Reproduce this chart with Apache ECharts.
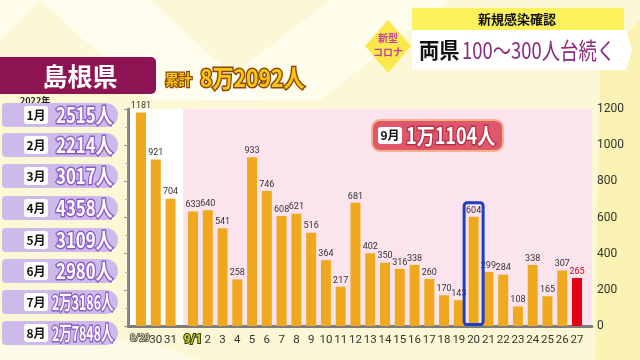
<!DOCTYPE html>
<html><head><meta charset="utf-8">
<script src="https://cdn.jsdelivr.net/npm/echarts@6/dist/echarts.min.js"></script>
<style>html,body{margin:0;padding:0;background:#fcf8d6}#c{width:640px;height:360px}</style>
</head><body><div id="c"></div>
<script>
// ---- data ----
var augDays = ['8/29', '30', '31'];
var augValues = [1181, 921, 704];
var sepDays = ['9/1','2','3','4','5','6','7','8','9','10','11','12','13','14','15','16','17','18','19','20','21','22','23','24','25','26','27'];
var sepValues = [633,640,541,258,933,746,608,621,516,364,217,681,402,350,316,338,260,170,143,604,299,284,108,338,165,307,265];
var highlightDay = '20';
var highlightTop = 690;
var latestDay = '27';
var yTicks = [0, 200, 400, 600, 800, 1000, 1200];
var monthNames = ['1月','2月','3月','4月','5月','6月','7月','8月'];
var monthTotals = ['2515人','2214人','3017人','4358人','3109人','2980人','2万3186人','2万7848人'];
var yearLabel = '2022年';
var prefName = '島根県';
var totalLabel = '累計';
var totalValue = '8万2092人';
var sepMonth = '9月';
var sepTotal = '1万1104人';
var tagLine1 = '新型';
var tagLine2 = 'コロナ';
var headTop = '新規感染確認';
var headA = '両県';
var headB = '100〜300人台続く';

var JP = '"Noto Sans CJK JP", "Noto Sans", sans-serif';
var NARROW = 'Roboto, "Liberation Sans", sans-serif';
var BAR = '#f0a91e';

var chart = echarts.init(document.getElementById('c'), null, {renderer: 'canvas'});

var graphics = [];
// background stripes
graphics.push({type:'polygon', z:-10, shape:{points:[[40,0],[150,0],[260,100],[150,100]]}, style:{fill:'rgba(255,255,255,0.55)'}});
graphics.push({type:'polygon', z:-10, shape:{points:[[200,100],[330,0],[450,0],[320,100]]}, style:{fill:'rgba(255,255,255,0.5)'}});
graphics.push({type:'polygon', z:-10, shape:{points:[[0,0],[40,0],[0,40]]}, style:{fill:'rgba(255,255,255,0.5)'}});
graphics.push({type:'polygon', z:-10, shape:{points:[[600,60],[640,20],[640,360],[595,360]]}, style:{fill:'rgba(250,238,140,0.45)'}});
graphics.push({type:'polygon', z:-10, shape:{points:[[0,340],[140,340],[200,360],[0,360]]}, style:{fill:'rgba(255,255,255,0.45)'}});

// header
graphics.push({type:'polygon', shape:{points:[[388,20],[411,46],[388,73],[365,46]]}, style:{fill:'#fbe84a'}});
graphics.push({type:'text', x:388, y:38, style:{text:tagLine1, font:'bold 10px '+JP, fill:'#c2449a', align:'center', verticalAlign:'middle'}});
graphics.push({type:'text', x:388, y:52, style:{text:tagLine2, font:'bold 10px '+JP, fill:'#c2449a', align:'center', verticalAlign:'middle'}});
graphics.push({type:'rect', shape:{x:412, y:8, width:212, height:22}, style:{fill:'#fdf25c'}});
graphics.push({type:'text', x:517, y:19, style:{text:headTop, font:'bold 13px '+JP, fill:'#111', align:'center', verticalAlign:'middle'}});
graphics.push({type:'polygon', shape:{points:[[412,30],[626,30],[632,50],[626,70],[412,70]]}, style:{fill:'#ffffff'}});
graphics.push({type:'text', x:419, y:50, scaleX:0.92, style:{text:headA, font:'bold 22px '+JP, fill:'#111', align:'left', verticalAlign:'middle'}});
graphics.push({type:'text', x:462, y:50, scaleX:0.8, style:{text:headB, font:'23px '+JP, fill:'#8a2a7e', align:'left', verticalAlign:'middle'}});

// prefecture and cumulative
graphics.push({type:'rect', shape:{x:-6, y:57, width:162, height:37, r:5}, style:{fill:'#8e1352'}});
graphics.push({type:'text', x:80, y:76, style:{text:prefName, font:'bold 25px '+JP, fill:'#fff', align:'center', verticalAlign:'middle'}});
graphics.push({type:'text', x:165, y:79, scaleX:0.9, style:{text:totalLabel, font:'bold 15px '+JP, fill:'#f9c318', stroke:'#8a4600', lineWidth:2.5, align:'left', verticalAlign:'middle'}});
graphics.push({type:'text', x:200, y:78, scaleX:0.88, style:{text:totalValue, font:'bold 24px '+JP, fill:'#f9c318', stroke:'#8a4600', lineWidth:3, align:'left', verticalAlign:'middle'}});

// month list
graphics.push({type:'text', x:20, y:101, style:{text:yearLabel, font:'bold 9px '+JP, fill:'#222', align:'left', verticalAlign:'middle'}});
var rowY = [115, 145, 176, 208, 240, 271, 302, 333];
monthNames.forEach(function(m, i){
  var y = rowY[i];
  graphics.push({type:'rect', shape:{x:2, y:y-12, width:116, height:24, r:[4,12,12,4]}, style:{fill:'#cdbaeb'}});
  graphics.push({type:'rect', shape:{x:24, y:y-9, width:24, height:18, r:3}, style:{fill:'#ffffff'}});
  graphics.push({type:'text', x:36, y:y, style:{text:m, font:'bold 12px '+JP, fill:'#111', align:'center', verticalAlign:'middle'}});
  var long = monthTotals[i].length > 5;
  graphics.push({type:'text', x:long?52:56, y:y, scaleX:long?0.62:0.8, style:{text:monthTotals[i], font:(long?'bold 20px ':'bold 21px ')+JP, fill:'#fff', stroke:'#8c5bc9', lineWidth:3, align:'left', verticalAlign:'middle'}});
});

// plot backgrounds
graphics.push({type:'rect', z:-5, shape:{x:128, y:109, width:55, height:217}, style:{fill:'#ffffff'}});
graphics.push({type:'rect', z:-5, shape:{x:183, y:109, width:409, height:217}, style:{fill:'#fbe4ee'}});

// 9月 box
graphics.push({type:'rect', z:50, shape:{x:372, y:120, width:131, height:31, r:8}, style:{fill:'#e0566a', stroke:'#f6b28a', lineWidth:2}});
graphics.push({type:'rect', z:51, shape:{x:378, y:127, width:24, height:17, r:3}, style:{fill:'#ffffff'}});
graphics.push({type:'text', z:52, x:390, y:135.5, style:{text:sepMonth, font:'bold 12px '+JP, fill:'#111', align:'center', verticalAlign:'middle'}});
graphics.push({type:'text', z:52, x:406, y:135.5, scaleX:0.82, style:{text:sepTotal, font:'bold 22px '+JP, fill:'#fff', stroke:'#b8304a', lineWidth:3, align:'left', verticalAlign:'middle'}});

var barLabel = {show:true, position:'top', distance:2, fontSize:9, color:'#333', fontFamily:NARROW};
var xLabelBase = {fontSize:11.5, color:'#333', fontFamily:NARROW, margin:8, interval:0};

var option = {
  backgroundColor: '#fcf8d6',
  animation: false,
  graphic: {elements: graphics},
  grid: [
    {left:128, right:48, top:109, bottom:34},
    {left:133.6, width:44.3, top:109, bottom:34},
    {left:185.6, right:55.6, top:109, bottom:34}
  ],
  xAxis: [
    {gridIndex:0, type:'value', min:0, max:1, axisLine:{show:true, onZero:false, lineStyle:{color:'#7d7d7d', width:3}}, axisTick:{show:false}, axisLabel:{show:false}, splitLine:{show:false}},
    {gridIndex:1, type:'category', data:augDays, axisLine:{show:false}, axisTick:{show:false},
      axisLabel:Object.assign({}, xLabelBase, {formatter:function(v){return v==='8/29' ? '{s|'+v+'}' : v;},
        rich:{s:{fontSize:9.5, fontFamily:NARROW, color:'#fff3c0', textBorderColor:'#333', textBorderWidth:1.5, padding:[0,2,0,0]}}})},
    {gridIndex:2, type:'category', data:sepDays, axisLine:{show:false}, axisTick:{show:false},
      axisLabel:Object.assign({}, xLabelBase, {formatter:function(v){return v==='9/1' ? '{s|'+v+'}' : v;},
        rich:{s:{fontSize:12, fontFamily:NARROW, fontWeight:'bold', color:'#c9d41a', textBorderColor:'#3a3a10', textBorderWidth:2}}})},
    {gridIndex:2, type:'category', data:sepDays, show:false}
  ],
  yAxis: [
    {gridIndex:0, type:'value', position:'right', min:0, max:1200, interval:200,
      axisLine:{show:true, lineStyle:{color:'#7d7d7d', width:3}},
      axisTick:{show:true, inside:true, length:4, lineStyle:{color:'#999'}},
      minorTick:{show:true, splitNumber:2, length:3, lineStyle:{color:'#aaa'}},
      axisLabel:{fontSize:12, color:'#333', fontFamily:NARROW, margin:5, formatter:function(v){return yTicks.indexOf(v)>=0 ? String(v) : '';}},
      splitLine:{show:false}},
    {gridIndex:0, type:'value', position:'left', min:0, max:1200, axisLine:{show:true, lineStyle:{color:'#8a8a8a', width:2}}, axisTick:{show:false}, axisLabel:{show:false}, splitLine:{show:false}},
    {gridIndex:1, type:'value', min:0, max:1200, show:false},
    {gridIndex:2, type:'value', min:0, max:1200, show:false}
  ],
  series: [
    {type:'bar', xAxisIndex:1, yAxisIndex:2, data:augValues, barWidth:10, itemStyle:{color:BAR}, label:barLabel},
    {type:'bar', xAxisIndex:2, yAxisIndex:3, barWidth:10, label:barLabel,
      data: sepValues.map(function(v, i){
        return sepDays[i]===latestDay ? {value:v, itemStyle:{color:'#e3000f'}, label:{color:'#e3000f'}} : {value:v, itemStyle:{color:BAR}};
      })},
    {type:'bar', xAxisIndex:3, yAxisIndex:3, barWidth:22, z:10, silent:true,
      itemStyle:{color:'rgba(0,0,0,0)', borderColor:'#1c3fc4', borderWidth:3, borderRadius:3},
      data: sepDays.map(function(d){ return d===highlightDay ? highlightTop : '-'; })}
  ]
};
chart.setOption(option);
</script>
</body></html>
